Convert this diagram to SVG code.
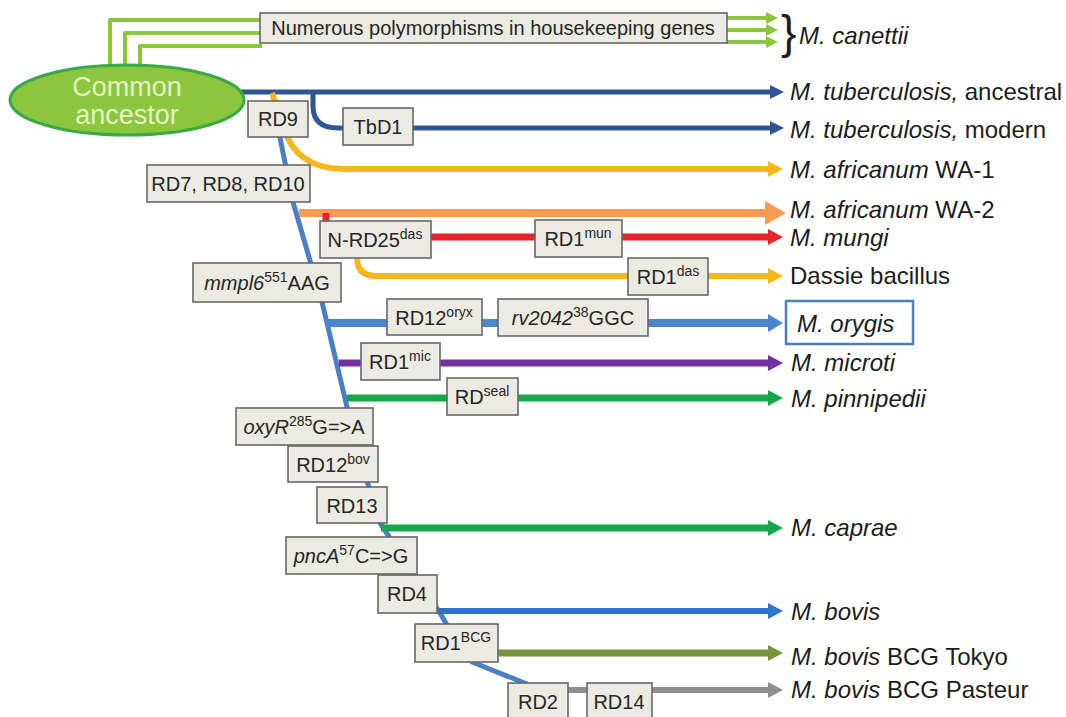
<svg xmlns="http://www.w3.org/2000/svg" width="1066" height="717" viewBox="0 0 1066 717">
<style>
.bx{fill:#ecebe3;stroke:#676767;stroke-width:1.6}
.bt{font-family:"Liberation Sans",Arial,sans-serif;font-size:20px;fill:#262626;text-anchor:middle}
.lab{font-family:"Liberation Sans",Arial,sans-serif;font-size:24px;fill:#1c1c1c}
.it{font-style:italic}
.sp{font-size:14px}
.ln{fill:none;stroke-linejoin:round}
</style>
<defs>
<marker id="aGreen" markerUnits="userSpaceOnUse" markerWidth="14" markerHeight="12" refX="0" refY="6" orient="auto"><path d="M0,0 L12,6 L0,12 z" fill="#8cc63f"/></marker>
<marker id="aNavy" markerUnits="userSpaceOnUse" markerWidth="16" markerHeight="14" refX="0" refY="7" orient="auto"><path d="M0,0 L14,7 L0,14 z" fill="#2f5597"/></marker>
<marker id="aYel" markerUnits="userSpaceOnUse" markerWidth="16" markerHeight="16" refX="0" refY="8" orient="auto"><path d="M0,0 L15,8 L0,16 z" fill="#f5b81c"/></marker>
<marker id="aOra" markerUnits="userSpaceOnUse" markerWidth="22" markerHeight="24" refX="0" refY="12" orient="auto"><path d="M0,0 L21,12 L0,24 z" fill="#f39c52"/></marker>
<marker id="aRed" markerUnits="userSpaceOnUse" markerWidth="16" markerHeight="16" refX="0" refY="8" orient="auto"><path d="M0,0 L15,8 L0,16 z" fill="#e8262a"/></marker>
<marker id="aBlue" markerUnits="userSpaceOnUse" markerWidth="16" markerHeight="18" refX="0" refY="9" orient="auto"><path d="M0,0 L15,9 L0,18 z" fill="#4a86d0"/></marker>
<marker id="aPur" markerUnits="userSpaceOnUse" markerWidth="16" markerHeight="16" refX="0" refY="8" orient="auto"><path d="M0,0 L15,8 L0,16 z" fill="#7030a0"/></marker>
<marker id="aGr2" markerUnits="userSpaceOnUse" markerWidth="16" markerHeight="16" refX="0" refY="8" orient="auto"><path d="M0,0 L15,8 L0,16 z" fill="#14a84b"/></marker>
<marker id="aBov" markerUnits="userSpaceOnUse" markerWidth="16" markerHeight="16" refX="0" refY="8" orient="auto"><path d="M0,0 L15,8 L0,16 z" fill="#2f74c6"/></marker>
<marker id="aOli" markerUnits="userSpaceOnUse" markerWidth="16" markerHeight="16" refX="0" refY="8" orient="auto"><path d="M0,0 L15,8 L0,16 z" fill="#77933c"/></marker>
<marker id="aGry" markerUnits="userSpaceOnUse" markerWidth="16" markerHeight="16" refX="0" refY="8" orient="auto"><path d="M0,0 L15,8 L0,16 z" fill="#8f8f8f"/></marker>
</defs>
<rect width="1066" height="717" fill="#ffffff"/>

<g id="connectors">
<path class="ln" d="M110,70 V20 H262" stroke="#8cc63f" stroke-width="4"/>
<path class="ln" d="M125,70 V33 H262" stroke="#8cc63f" stroke-width="4"/>
<path class="ln" d="M140,70 V46 H262" stroke="#8cc63f" stroke-width="4"/>
<path class="ln" d="M725,18 H766" stroke="#8cc63f" stroke-width="4" marker-end="url(#aGreen)"/>
<path class="ln" d="M725,30 H766" stroke="#8cc63f" stroke-width="4" marker-end="url(#aGreen)"/>
<path class="ln" d="M725,42 H766" stroke="#8cc63f" stroke-width="4" marker-end="url(#aGreen)"/>
<path class="ln" d="M230,92 H770" stroke="#2f5597" stroke-width="5" marker-end="url(#aNavy)"/>
<path class="ln" d="M313,92 V106 Q313,128 338,128 H770" stroke="#2f5597" stroke-width="5" marker-end="url(#aNavy)"/>
<path class="ln" d="M272,93 L284,128 Q296,169 345,169 H768" stroke="#f5b81c" stroke-width="6" marker-end="url(#aYel)"/>
<path class="ln" d="M276,118 L293,202 L322,302 L347,407 L368,484 L380,523 L440,613 L447,625 L472,662 L527,684" stroke="#4a7fc8" stroke-width="5"/>
<path class="ln" d="M299,213 H765" stroke="#f39c52" stroke-width="8" marker-end="url(#aOra)"/>
<path class="ln" d="M326,213 V237 H768" stroke="#e8262a" stroke-width="7" marker-end="url(#aRed)"/>
<path class="ln" d="M357,240 V258 Q357,276 377,276 H768" stroke="#f5b81c" stroke-width="6" marker-end="url(#aYel)"/>
<path class="ln" d="M326,323 H768" stroke="#4a86d0" stroke-width="8" marker-end="url(#aBlue)"/>
<path class="ln" d="M339,363 H768" stroke="#7030a0" stroke-width="7" marker-end="url(#aPur)"/>
<path class="ln" d="M347,398 H768" stroke="#14a84b" stroke-width="7" marker-end="url(#aGr2)"/>
<path class="ln" d="M381,528 H768" stroke="#14a84b" stroke-width="7" marker-end="url(#aGr2)"/>
<path class="ln" d="M435,611 H768" stroke="#2f74c6" stroke-width="6" marker-end="url(#aBov)"/>
<path class="ln" d="M496,653 H768" stroke="#77933c" stroke-width="7" marker-end="url(#aOli)"/>
<path class="ln" d="M540,690 H768" stroke="#8f8f8f" stroke-width="6" marker-end="url(#aGry)"/>
</g>

<g id="ancestor">
<ellipse cx="127" cy="100" rx="117" ry="35" fill="#8cc63f" stroke="#3aa846" stroke-width="3"/>
<text x="127" y="96" font-family="Liberation Sans, Arial, sans-serif" font-size="27" fill="#e6f4c4" text-anchor="middle">Common</text>
<text x="127" y="124" font-family="Liberation Sans, Arial, sans-serif" font-size="27" fill="#e6f4c4" text-anchor="middle">ancestor</text>
</g>

<g id="n-housekeeping"><rect class="bx" x="260" y="13" width="467" height="30"/><text class="bt" x="493" y="35">Numerous polymorphisms in housekeeping genes</text></g>
<g id="n-rd9"><rect class="bx" x="248" y="101" width="60" height="36"/><text class="bt" x="278" y="126">RD9</text></g>
<g id="n-tbd1"><rect class="bx" x="343" y="108" width="70" height="37"/><text class="bt" x="378" y="134">TbD1</text></g>
<g id="n-rd7"><rect class="bx" x="147" y="165" width="163" height="37"/><text class="bt" x="228" y="191">RD7, RD8, RD10</text></g>
<g id="n-nrd25"><rect class="bx" x="320" y="221" width="111" height="37"/><text class="bt" x="375" y="247">N-RD25<tspan class="sp" dy="-8">das</tspan></text></g>
<g id="n-rd1mun"><rect class="bx" x="535" y="220" width="87" height="37"/><text class="bt" x="578" y="246">RD1<tspan class="sp" dy="-8">mun</tspan></text></g>
<g id="n-rd1das"><rect class="bx" x="628" y="258" width="80" height="37"/><text class="bt" x="668" y="284">RD1<tspan class="sp" dy="-8">das</tspan></text></g>
<g id="n-mmpl6"><rect class="bx" x="193" y="263" width="148" height="39"/><text class="bt" x="267" y="290"><tspan class="it">mmpl6</tspan><tspan class="sp" dy="-8">551</tspan><tspan dy="8">AAG</tspan></text></g>
<g id="n-rd12oryx"><rect class="bx" x="387" y="299" width="95" height="36"/><text class="bt" x="434" y="325">RD12<tspan class="sp" dy="-8">oryx</tspan></text></g>
<g id="n-rv2042"><rect class="bx" x="498" y="299" width="150" height="37"/><text class="bt" x="573" y="325"><tspan class="it">rv2042</tspan><tspan class="sp" dy="-8">38</tspan><tspan dy="8">GGC</tspan></text></g>
<g id="n-rd1mic"><rect class="bx" x="361" y="343" width="79" height="37"/><text class="bt" x="400" y="369">RD1<tspan class="sp" dy="-8">mic</tspan></text></g>
<g id="n-rdseal"><rect class="bx" x="447" y="378" width="71" height="37"/><text class="bt" x="482" y="404">RD<tspan class="sp" dy="-8">seal</tspan></text></g>
<g id="n-oxyr"><rect class="bx" x="236" y="408" width="137" height="37"/><text class="bt" x="304" y="434"><tspan class="it">oxyR</tspan><tspan class="sp" dy="-8">285</tspan><tspan dy="8">G=&gt;A</tspan></text></g>
<g id="n-rd12bov"><rect class="bx" x="288" y="446" width="90" height="36"/><text class="bt" x="333" y="472">RD12<tspan class="sp" dy="-8">bov</tspan></text></g>
<g id="n-rd13"><rect class="bx" x="317" y="487" width="70" height="36"/><text class="bt" x="352" y="513">RD13</text></g>
<g id="n-pnca"><rect class="bx" x="286" y="537" width="131" height="37"/><text class="bt" x="351" y="563"><tspan class="it">pncA</tspan><tspan class="sp" dy="-8">57</tspan><tspan dy="8">C=&gt;G</tspan></text></g>
<g id="n-rd4"><rect class="bx" x="378" y="575" width="59" height="38"/><text class="bt" x="407" y="601">RD4</text></g>
<g id="n-rd1bcg"><rect class="bx" x="415" y="624" width="83" height="38"/><text class="bt" x="456" y="650">RD1<tspan class="sp" dy="-8">BCG</tspan></text></g>
<g id="n-rd2"><rect class="bx" x="508" y="683" width="60" height="38"/><text class="bt" x="538" y="709">RD2</text></g>
<g id="n-rd14"><rect class="bx" x="587" y="683" width="65" height="38"/><text class="bt" x="619" y="709">RD14</text></g>

<g id="labels">
<text x="781" y="48" font-family="Liberation Sans, Arial, sans-serif" font-size="46" fill="#1c1c1c">}</text>
<text class="lab it" x="799" y="44" font-size="25">M. canettii</text>
<text class="lab" x="790" y="100"><tspan class="it">M. tuberculosis,</tspan> ancestral</text>
<text class="lab" x="790" y="138"><tspan class="it">M. tuberculosis,</tspan> modern</text>
<text class="lab" x="790" y="178"><tspan class="it">M. africanum</tspan> WA-1</text>
<text class="lab" x="790" y="218"><tspan class="it">M. africanum</tspan> WA-2</text>
<text class="lab it" x="790" y="246">M. mungi</text>
<text class="lab" x="790" y="284">Dassie bacillus</text>
<g id="n-orygis"><rect x="786" y="301" width="127" height="43" fill="#ffffff" stroke="#4a7fc8" stroke-width="2.5"/><text class="lab it" x="797" y="332">M. orygis</text></g>
<text class="lab it" x="791" y="371">M. microti</text>
<text class="lab it" x="791" y="407">M. pinnipedii</text>
<text class="lab it" x="791" y="536">M. caprae</text>
<text class="lab it" x="791" y="620">M. bovis</text>
<text class="lab" x="791" y="665"><tspan class="it">M. bovis</tspan> BCG Tokyo</text>
<text class="lab" x="791" y="698"><tspan class="it">M. bovis</tspan> BCG Pasteur</text>
</g>
</svg>
